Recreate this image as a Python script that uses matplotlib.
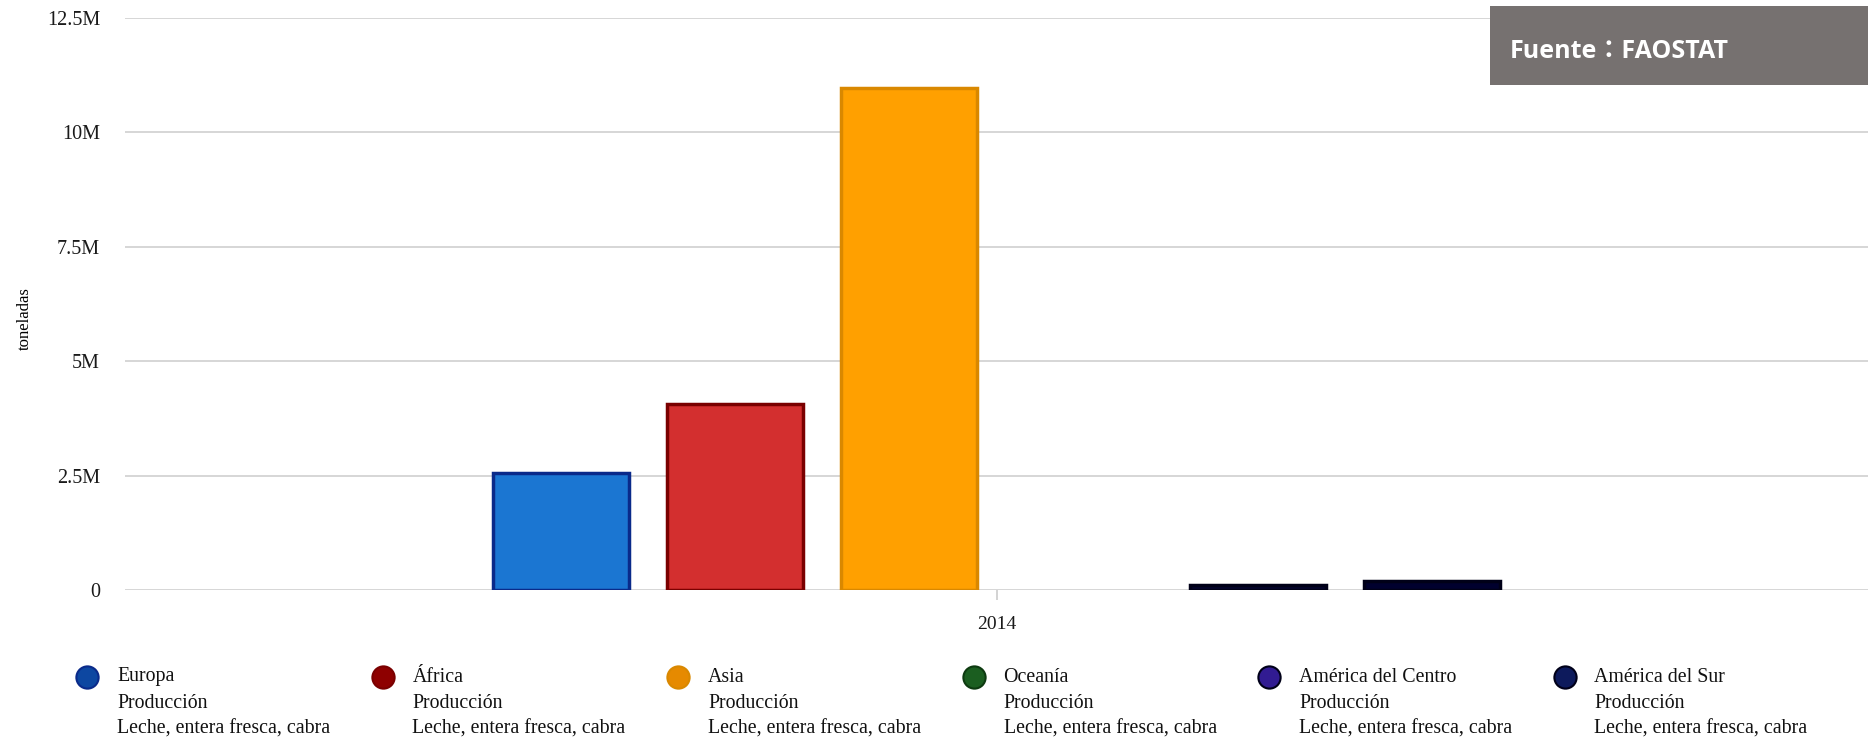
import numpy as np
import matplotlib.pyplot as plt
from matplotlib.patches import Rectangle
from matplotlib.lines import Line2D

# Data (toneladas, 2014)
regions = ['Europa', 'África', 'Asia', 'Oceanía', 'América del Centro', 'América del Sur']
values = [2.55e6, 4.06e6, 10.97e6, 0.0, 0.12e6, 0.20e6]
year = 2014
legend_lines = ['Producción', 'Leche, entera fresca, cabra']
yticks = [0, 2.5e6, 5e6, 7.5e6, 10e6, 12.5e6]
ytick_labels = ['0', '2.5M', '5M', '7.5M', '10M', '12.5M']

# Colours: bar fill, bar edge, legend marker
fill_colors = ['#1b76d2', '#d32f2f', '#ffa000', '#1b5e20', '#05052e', '#00002e']
edge_colors = ['#0a2a8a', '#7a0000', '#d98800', '#0d3a10', '#000018', '#000018']
marker_colors = ['#0d47a1', '#8e0000', '#e68a00', '#1b5e20', '#311b92', '#0d1a5c']

plt.rcParams['font.family'] = ['Liberation Serif', 'DejaVu Serif']

fig = plt.figure(figsize=(18.68, 7.40), dpi=100)
ax = fig.add_axes([125 / 1868, 1 - 590 / 740, 1 - 125 / 1868, (590 - 18) / 740])

step = 0.1
width = 0.078
offsets = (np.arange(len(regions)) - (len(regions) - 1) / 2) * step
bars = ax.bar(year + offsets, values, width=width, color=fill_colors,
              edgecolor=edge_colors, linewidth=2.5, zorder=3)
for b, v in zip(bars, values):
    if v == 0:
        b.set_visible(False)

ax.set_xlim(year - 0.5, year + 0.5)
ax.set_ylim(0, 12.5e6)
ax.set_yticks(yticks)
ax.set_yticklabels(ytick_labels)
ax.set_xticks([year])
ax.set_xticklabels([str(year)])
ax.yaxis.grid(True, color='#cfcfcf', linewidth=1.2, zorder=0)
ax.set_axisbelow(True)
for s in ax.spines.values():
    s.set_visible(False)
ax.tick_params(axis='y', length=0, pad=18, labelsize=14.5, labelcolor='#1a1a1a')
ax.tick_params(axis='x', length=7, width=1.2, color='#cccccc', pad=12,
               labelsize=14, labelcolor='#1a1a1a')
ax.set_ylabel('toneladas', fontsize=12)
ax.yaxis.set_label_coords(-0.053, 0.475)

# Legend drawn manually
x0, dx = 87, 295.5
for i, name in enumerate(regions):
    xm = (x0 + i * dx) / 1868
    fig.add_artist(Line2D([xm], [1 - 677 / 740], marker='o', markersize=16,
                          markerfacecolor=marker_colors[i],
                          markeredgecolor=edge_colors[i], markeredgewidth=1.5,
                          transform=fig.transFigure))
    xt = xm + 30 / 1868
    for j, line in enumerate([name] + legend_lines):
        fig.text(xt, 1 - (677 + 26 * j) / 740, line, fontsize=14.3,
                 va='center', ha='left', color='#111111')

# Source box
fig.add_artist(Rectangle((1490 / 1868, 1 - 85 / 740), 378 / 1868, 79 / 740,
                         transform=fig.transFigure, facecolor='#767170',
                         edgecolor='none', zorder=5))
fig.text(1510 / 1868, 1 - 52 / 740, 'Fuente：FAOSTAT', color='white',
         fontsize=18, fontweight='bold', va='center', ha='left', zorder=6,
         family=['Open Sans', 'Noto Sans CJK JP'])

fig.savefig('out.png', dpi=100)
